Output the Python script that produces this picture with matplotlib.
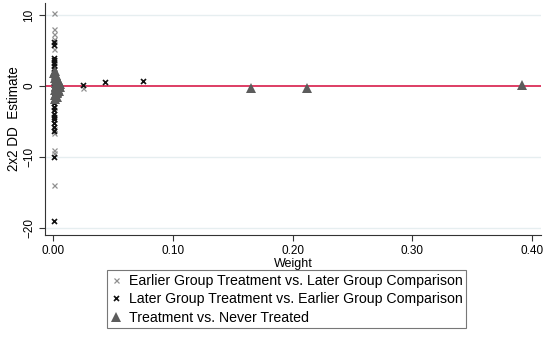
import numpy as np
import matplotlib
matplotlib.use("Agg")
import matplotlib.pyplot as plt

plt.rcParams['font.family'] = ['Liberation Sans', 'DejaVu Sans']

# Earlier Group Treatment vs. Later Group Comparison (grey x)
early_w = [0.0005, 0.0006, 0.0007, 0.0005, 0.0008, 0.0006, 0.0007, 0.0009, 0.0006,
           0.0008, 0.0005, 0.0007, 0.0006, 0.0008, 0.0007, 0.0006, 0.0245]
early_est = [10.3, 8.0, 7.4, 6.6, 5.2, 3.6, 2.4, 1.0, -1.6,
             -3.0, -4.6, -6.0, -6.6, -9.0, -9.4, -14.0, -0.3]

# Later Group Treatment vs. Earlier Group Comparison (black x)
late_w = [0.0007, 0.0008, 0.0006, 0.0009, 0.0007, 0.0008, 0.0006, 0.0009, 0.0007,
          0.0008, 0.0006, 0.0009, 0.0007, 0.0008, 0.0006, 0.0009, 0.0007, 0.0008,
          0.0006, 0.0009, 0.0007, 0.0008, 0.0006, 0.0007, 0.0008, 0.0006, 0.0007,
          0.025, 0.043, 0.075]
late_est = [6.2, 5.8, 4.0, 3.6, 3.2, 2.8, 2.4, 2.0, 1.6,
            1.2, 0.8, 0.4, -0.4, -0.9, -1.4, -1.9, -2.4, -2.9,
            -3.4, -3.9, -4.3, -4.7, -5.2, -5.8, -6.4, -10.0, -19.0,
            0.2, 0.6, 0.7]

# Treatment vs. Never Treated (grey triangles)
never_w = [0.0010, 0.0015, 0.0020, 0.0012, 0.0025, 0.0030, 0.0018, 0.0035, 0.0040,
           0.0022, 0.0045, 0.0050, 0.0028, 0.0055, 0.0032, 0.0060, 0.0014, 0.0038,
           0.0048, 0.0020, 0.0026, 0.0042, 0.0016, 0.0034,
           0.165, 0.212, 0.392]
never_est = [1.8, 1.2, 0.8, -0.6, 0.4, 1.0, -1.2, 0.2, -0.4,
             1.5, 0.6, 0.1, -0.9, -0.2, -1.6, 0.3, -1.8, 0.9,
             -0.7, -0.2, 0.0, 0.4, 2.1, -1.0,
             -0.3, -0.35, 0.15]

fig = plt.figure(figsize=(5.5, 3.39), dpi=100)
ax = fig.add_axes([0.082, 0.307, 0.902, 0.684])

ax.set_xlim(-0.0068, 0.4077)
ax.set_ylim(-21.0, 11.7)

for yv in [10, -10, -20]:
    ax.axhline(yv, color='#e6eef0', lw=1.0, zorder=0)
ax.axhline(0, color='#d81c4a', lw=1.2, zorder=1)

ax.plot(early_w, early_est, 'x', color='#8f8f8f', ms=3.6, mew=0.9, ls='none', zorder=3,
        label='Earlier Group Treatment vs. Later Group Comparison')
ax.plot(late_w, late_est, 'x', color='#111111', ms=3.6, mew=1.2, ls='none', zorder=3,
        label='Later Group Treatment vs. Earlier Group Comparison')
ax.plot(never_w, never_est, '^', color='#5c5c5c', ms=6.5, mew=0, ls='none', zorder=4,
        label='Treatment vs. Never Treated')

ax.set_xticks([0, 0.1, 0.2, 0.3, 0.4])
ax.set_xticklabels(['0.00', '0.10', '0.20', '0.30', '0.40'])
ax.set_yticks([-20, -10, 0, 10])
ax.set_yticklabels(['\u221220', '\u221210', '0', '10'], rotation=90, va='center')
ax.tick_params(labelsize=8.5, length=4, width=0.8, color='#333333', pad=3)

ax.spines['top'].set_visible(False)
ax.spines['right'].set_visible(False)
for s in ['left', 'bottom']:
    ax.spines[s].set_color('#333333')
    ax.spines[s].set_linewidth(0.8)

ax.set_xlabel('Weight', fontsize=9, labelpad=1)
ax.set_ylabel('2x2 DD  Estimate', fontsize=9.75, labelpad=2)

leg = fig.legend(loc='upper center', bbox_to_anchor=(0.521, 0.2035), fontsize=10.2,
                 frameon=True, fancybox=False, edgecolor='#555555', handletextpad=0.45,
                 handlelength=0.8, borderpad=0.25, labelspacing=0.33, borderaxespad=0)
leg.get_frame().set_linewidth(0.8)

fig.savefig('out.png', dpi=100)
